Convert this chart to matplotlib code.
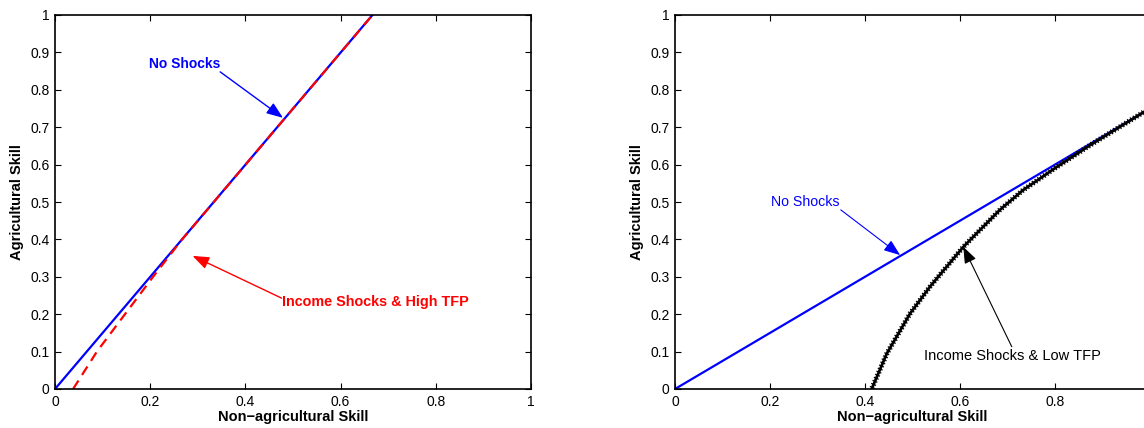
import matplotlib
matplotlib.use("Agg")
import matplotlib.pyplot as plt
import matplotlib.patheffects as pe

plt.rcParams['font.family'] = ['Liberation Sans', 'DejaVu Sans']

# ---------------- data ----------------
xticks = [0, 0.2, 0.4, 0.6, 0.8, 1]
xticklabels_left = ["0", "0.2", "0.4", "0.6", "0.8", "1"]
xticklabels_right = ["0", "0.2", "0.4", "0.6", "0.8", ""]   # "1" falls outside the cropped picture
yticks = [0, 0.1, 0.2, 0.3, 0.4, 0.5, 0.6, 0.7, 0.8, 0.9, 1]
yticklabels = ["0", "0.1", "0.2", "0.3", "0.4", "0.5", "0.6", "0.7", "0.8", "0.9", "1"]

# left panel
left_noshock_x = [0.0, 0.667]
left_noshock_y = [0.0, 1.0]
left_high_x = [0.038, 0.088, 0.147, 0.206, 0.267, 0.667]
left_high_y = [0.0, 0.1, 0.2, 0.3, 0.4, 1.0]

# right panel
right_noshock_x = [0.0, 1.0]
right_noshock_y = [0.0, 0.75]
right_low_x = [0.414, 0.446, 0.495, 0.537, 0.607, 0.684, 0.733, 0.804, 0.874, 0.985, 1.0]
right_low_y = [0.0, 0.095, 0.202, 0.274, 0.380, 0.479, 0.532, 0.594, 0.652, 0.739, 0.75]

W, H = 1144, 428
fig = plt.figure(figsize=(W / 100, H / 100), dpi=100)

ax_h = 374 / H
ax_b = (H - 389) / H
axL = fig.add_axes([55 / W, ax_b, 476 / W, ax_h])
axR = fig.add_axes([675 / W, ax_b, 475 / W, ax_h])

for ax, xtl in ((axL, xticklabels_left), (axR, xticklabels_right)):
    ax.set_xlim(0, 1)
    ax.set_ylim(0, 1)
    ax.set_xticks(xticks)
    ax.set_xticklabels(xtl)
    ax.set_yticks(yticks)
    ax.set_yticklabels(yticklabels)
    ax.tick_params(direction='in', length=4, width=0.8, top=True, right=True,
                   labelsize=10, pad=4, colors='black')
    for s in ax.spines.values():
        s.set_linewidth(1.2)
    ax.set_xlabel("Non\u2212agricultural Skill", fontsize=10.5, fontweight='bold')
    ax.set_ylabel("Agricultural Skill", fontsize=10.5, fontweight='bold')
    ax.xaxis.set_label_coords(0.5, -0.056)
    ax.yaxis.set_label_coords(-0.066, 0.5)

arrow_kw = dict(arrowstyle="-|>,head_length=1.0,head_width=0.38", shrinkA=0, shrinkB=0)

# ---------------- left panel ----------------
axL.plot(left_noshock_x, left_noshock_y, color='blue', lw=1.6)
axL.plot(left_high_x, left_high_y, color='red', lw=1.6, dashes=(4.5, 3))

axL.annotate("", xy=(0.479, 0.725), xytext=(0.347, 0.848),
             arrowprops=dict(color='blue', lw=1.0, **arrow_kw))
axL.text(0.273, 0.869, "No Shocks", color='blue', fontsize=10, fontweight='bold',
         ha='center', va='center')

axL.annotate("", xy=(0.289, 0.356), xytext=(0.476, 0.243),
             arrowprops=dict(color='red', lw=1.0, **arrow_kw))
axL.text(0.476, 0.232, "Income Shocks & High TFP", color='red', fontsize=10.4,
         fontweight='bold', ha='left', va='center')

# ---------------- right panel ----------------
axR.plot(right_noshock_x, right_noshock_y, color='blue', lw=1.6)
axR.plot(right_low_x, right_low_y, color='black', lw=2.0,
         path_effects=[pe.TickedStroke(angle=90, spacing=2.4, length=0.6, linewidth=0.9),
                       pe.TickedStroke(angle=-90, spacing=2.4, length=0.6, linewidth=0.9),
                       pe.Normal()])

axR.annotate("", xy=(0.474, 0.358), xytext=(0.349, 0.479),
             arrowprops=dict(color='blue', lw=0.8, **arrow_kw))
axR.text(0.275, 0.499, "No Shocks", color='blue', fontsize=10.2, ha='center', va='center')

axR.annotate("", xy=(0.607, 0.380), xytext=(0.709, 0.113),
             arrowprops=dict(color='black', lw=0.8, **arrow_kw))
axR.text(0.711, 0.088, "Income Shocks & Low TFP", color='black', fontsize=10.5,
         ha='center', va='center')

fig.savefig("out.png", dpi=100)
